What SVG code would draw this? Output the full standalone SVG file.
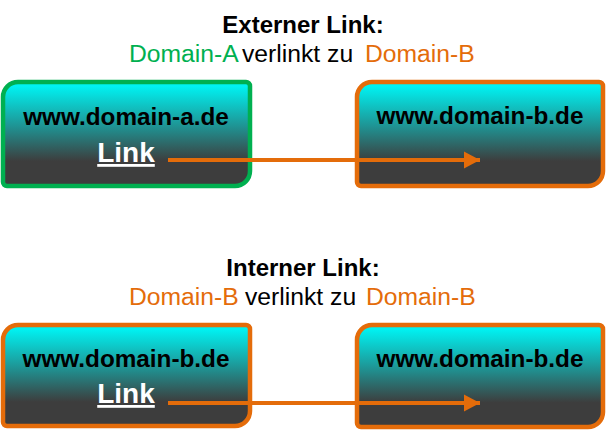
<svg xmlns="http://www.w3.org/2000/svg" width="607" height="433" viewBox="0 0 607 433">
<style>
.t{font-family:"Liberation Sans",Arial,sans-serif;}
.title{font-size:24px;font-weight:bold;fill:#000;}
.sub{font-size:24.7px;fill:#000;}
.g{fill:#00B050;}
.o{fill:#E46C0A;}
.dom{font-size:24.3px;font-weight:bold;fill:#000;}
.link{font-size:28px;font-weight:bold;fill:#fff;}
.box{fill:url(#grad);stroke-width:4.5;}
.conn{stroke:#E46C0A;stroke-width:4;fill:none;}
</style>
<defs>
<linearGradient id="grad" x1="0" y1="0" x2="0" y2="1">
<stop offset="0.04" stop-color="#00F2F2"/>
<stop offset="0.45" stop-color="#218D8D"/>
<stop offset="0.76" stop-color="#3D3D3D"/>
<stop offset="1" stop-color="#3D3D3D"/>
</linearGradient>
<marker id="ah" markerWidth="5" markerHeight="5" refX="4" refY="2.5" orient="auto" markerUnits="strokeWidth">
<path d="M0,0.4 L4,2.5 L0,4.6 Z" fill="#E46C0A"/>
</marker>
</defs>
<g id="title-extern">
<text class="t title" x="303" y="33" text-anchor="middle">Externer Link:</text>
<text class="t sub" y="62"><tspan class="g" x="129">Domain-A</tspan><tspan x="242">verlinkt zu</tspan><tspan class="o" x="365">Domain-B</tspan></text>
</g>
<g id="title-intern">
<text class="t title" x="303" y="276" text-anchor="middle">Interner Link:</text>
<text class="t sub" y="305"><tspan class="o" x="129">Domain-B</tspan><tspan x="245">verlinkt zu</tspan><tspan class="o" x="366">Domain-B</tspan></text>
</g>
<g id="node-a">
<path class="box" stroke="#00B050" d="M18,82 H246 A4,4 0 0 1 250,86 V171 A15,15 0 0 1 235,186 H7 A4,4 0 0 1 3,182 V97 A15,15 0 0 1 18,82 Z"/>
<text class="t dom" x="126" y="125" text-anchor="middle">www.domain-a.de</text>
<text class="t link" x="126" y="162" text-anchor="middle" text-decoration="underline">Link</text>
</g>
<g id="node-b1">
<path class="box" stroke="#E46C0A" d="M372,82 H599 A4,4 0 0 1 603,86 V171 A15,15 0 0 1 588,186 H361 A4,4 0 0 1 357,182 V97 A15,15 0 0 1 372,82 Z"/>
<text class="t dom" x="480" y="124" text-anchor="middle">www.domain-b.de</text>
</g>
<g id="node-b2">
<path class="box" stroke="#E46C0A" d="M18,325 H246 A4,4 0 0 1 250,329 V411 A15,15 0 0 1 235,426 H7 A4,4 0 0 1 3,422 V340 A15,15 0 0 1 18,325 Z"/>
<text class="t dom" x="126" y="367" text-anchor="middle">www.domain-b.de</text>
<text class="t link" x="126" y="403" text-anchor="middle" text-decoration="underline">Link</text>
</g>
<g id="node-b3">
<path class="box" stroke="#E46C0A" d="M372,325 H599 A4,4 0 0 1 603,329 V412 A15,15 0 0 1 588,427 H361 A4,4 0 0 1 357,423 V340 A15,15 0 0 1 372,325 Z"/>
<text class="t dom" x="480" y="367" text-anchor="middle">www.domain-b.de</text>
</g>
<g id="connectors">
<line class="conn" x1="168" y1="160" x2="480" y2="160" marker-end="url(#ah)"/>
<line class="conn" x1="168" y1="403" x2="480" y2="403" marker-end="url(#ah)"/>
</g>
</svg>
